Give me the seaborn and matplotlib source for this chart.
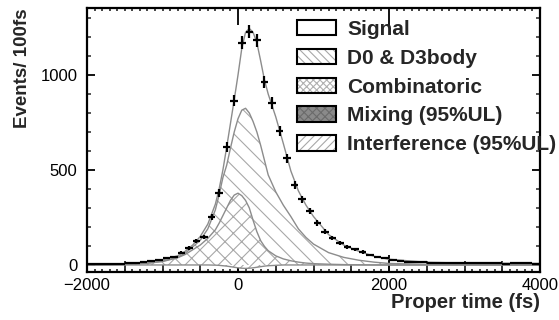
import numpy as np
import seaborn as sns
import matplotlib.pyplot as plt
from matplotlib.patches import Patch
from matplotlib.legend_handler import HandlerTuple
from matplotlib.ticker import MultipleLocator, FixedLocator

# ===== data =====
# binned data (100 fs bins)
bin_centres = list(range(-1950, 4000, 100))
counts = [3, 3, 4, 4, 6, 8, 11, 16, 20, 26,
          35, 42, 65, 88, 125, 148, 255, 380, 620, 865,
          1170, 1228, 1182, 963, 853, 703, 563, 423, 347, 284,
          221, 174, 142, 116, 95, 82, 68, 53, 42, 35,
          26, 21, 18, 15, 14, 12, 11, 10, 9, 10,
          8, 9, 10, 8, 9, 7, 8, 9, 8, 7]

# fit components, sampled on a time grid
t_curve = [-2000, -1500, -1200, -1000, -800, -700, -600, -500, -400, -300,
           -250, -200, -150, -100, -50, 0, 50, 100, 150, 200,
           250, 300, 350, 400, 500, 600, 700, 800, 900, 1000,
           1200, 1400, 1600, 1800, 2000, 2500, 3000, 4000]
total_fit = [1, 6, 16, 27, 48, 72, 105, 150, 215, 320,
             400, 500, 620, 745, 870, 1000, 1140, 1225, 1245, 1225,
             1170, 1075, 975, 900, 780, 640, 495, 390, 315, 255,
             160, 105, 72, 46, 30, 14, 10, 8]
# combinatoric + D0 & D3body (stacked)
d0_stack = [0, 3, 10, 20, 40, 62, 95, 130, 190, 290,
            370, 460, 525, 615, 700, 770, 815, 825, 800, 755,
            700, 630, 552, 474, 385, 315, 255, 190, 145, 110,
            65, 40, 25, 15, 8, 3, 1, 0]
combinatoric = [0, 3, 9, 18, 38, 55, 80, 105, 140, 185,
                220, 260, 300, 340, 368, 378, 365, 340, 300, 235,
                175, 128, 98, 75, 48, 32, 22, 15, 10, 7,
                4, 2, 1, 0, 0, 0, 0, 0]
interference = [0, 0, 0, 0, 0, 0, 0, 0, 0, -1,
                -2, -4, -6, -9, -12, -15, -17, -18, -17, -15,
                -12, -9, -6, -4, -2, 0, 0, 0, 0, 0,
                0, 0, 0, 0, 0, 0, 0, 0]

legend_labels = ["Signal", "D0 & D3body", "Combinatoric",
                 "Mixing (95%UL)", "Interference (95%UL)"]

# ===== style =====
sns.set_theme(style="ticks")
plt.rcParams['font.family'] = ['Liberation Sans', 'DejaVu Sans']
plt.rcParams['hatch.linewidth'] = 0.8
plt.rcParams['hatch.color'] = '#a8a8a8'

curve_col = '#8c8c8c'

fig = plt.figure(figsize=(5.59, 3.2), dpi=100)
ax = fig.add_axes([87 / 559, 1 - 272 / 320, 453 / 559, 264 / 320])

# stacked areas
ax.fill_between(t_curve, 0, combinatoric, facecolor='white',
                edgecolor='#a8a8a8', hatch='xx', linewidth=0, zorder=1)
ax.fill_between(t_curve, combinatoric, d0_stack, facecolor='white',
                edgecolor='#a8a8a8', hatch='\\\\', linewidth=0, zorder=1)
ax.fill_between(t_curve, interference, 0, facecolor='white',
                edgecolor='#a8a8a8', hatch='////', linewidth=0, zorder=1)

for ys in (combinatoric, d0_stack, total_fit, interference):
    sns.lineplot(x=t_curve, y=ys, ax=ax, color=curve_col, linewidth=1.0,
                 zorder=2)

# data points with error bars
ax.errorbar(bin_centres, counts, xerr=50, yerr=np.sqrt(counts), fmt='none',
            ecolor='black', elinewidth=1.6, capsize=0, zorder=3)

ax.set_xlim(-2000, 4000)
ax.set_ylim(-37, 1353)

# ticks
ax.xaxis.set_major_locator(MultipleLocator(2000))
ax.xaxis.set_minor_locator(MultipleLocator(100))
ax.yaxis.set_major_locator(FixedLocator([0, 500, 1000]))
ax.yaxis.set_minor_locator(MultipleLocator(100))
ax.tick_params(axis='x', which='major', direction='in', length=12, width=1.3,
               top=True, bottom=True, labelsize=12, pad=4, colors='black')
ax.tick_params(axis='x', which='minor', direction='in', length=2.5, width=1.2,
               top=True, bottom=True)
ax.tick_params(axis='y', which='major', direction='in', length=6, width=1.3,
               left=True, right=True, labelsize=12, pad=7, colors='black')
ax.tick_params(axis='y', which='minor', direction='in', length=3, width=1.1,
               left=True, right=True)

sec = ax.secondary_xaxis('bottom')
sec.xaxis.set_major_locator(MultipleLocator(500))
sec.tick_params(direction='in', length=8, width=1.3, labelbottom=False)
sec.spines['bottom'].set_visible(False)

for s in ax.spines.values():
    s.set_linewidth(1.6)
    s.set_color('black')

ax.set_xlabel("Proper time (fs)", fontsize=14.5, fontweight='bold',
              ha='right', va='center')
ax.xaxis.set_label_coords(1.0, -0.114)
ax.set_ylabel("Events/ 100fs", fontsize=13.5, fontweight='bold',
              ha='center', va='center')
ax.yaxis.set_label_coords(-0.143, 0.773)

# legend
edge = dict(facecolor='none', edgecolor='black', linewidth=1.5)
handles = [
    Patch(facecolor='white', edgecolor='black', linewidth=1.5),
    (Patch(facecolor='white', edgecolor='#a8a8a8', hatch='\\\\\\\\', linewidth=0), Patch(**edge)),
    (Patch(facecolor='white', edgecolor='#b0b0b0', hatch='xxxxx', linewidth=0), Patch(**edge)),
    (Patch(facecolor='#8a8a8a', edgecolor='#6a6a6a', hatch='xxxx', linewidth=0), Patch(**edge)),
    (Patch(facecolor='white', edgecolor='#a8a8a8', hatch='////', linewidth=0), Patch(**edge)),
]
leg = ax.legend(handles, legend_labels, loc='upper left',
                bbox_to_anchor=(297 / 559, 1 - 20 / 320),
                bbox_transform=fig.transFigure, frameon=False,
                prop={'size': 15, 'weight': 'bold'},
                borderpad=0, borderaxespad=0,
                handlelength=1.85, handleheight=0.76, handletextpad=0.55,
                labelspacing=0.47,
                handler_map={tuple: HandlerTuple(ndivide=1, pad=0)})
leg.set_zorder(5)

fig.savefig("out.png", dpi=100)
